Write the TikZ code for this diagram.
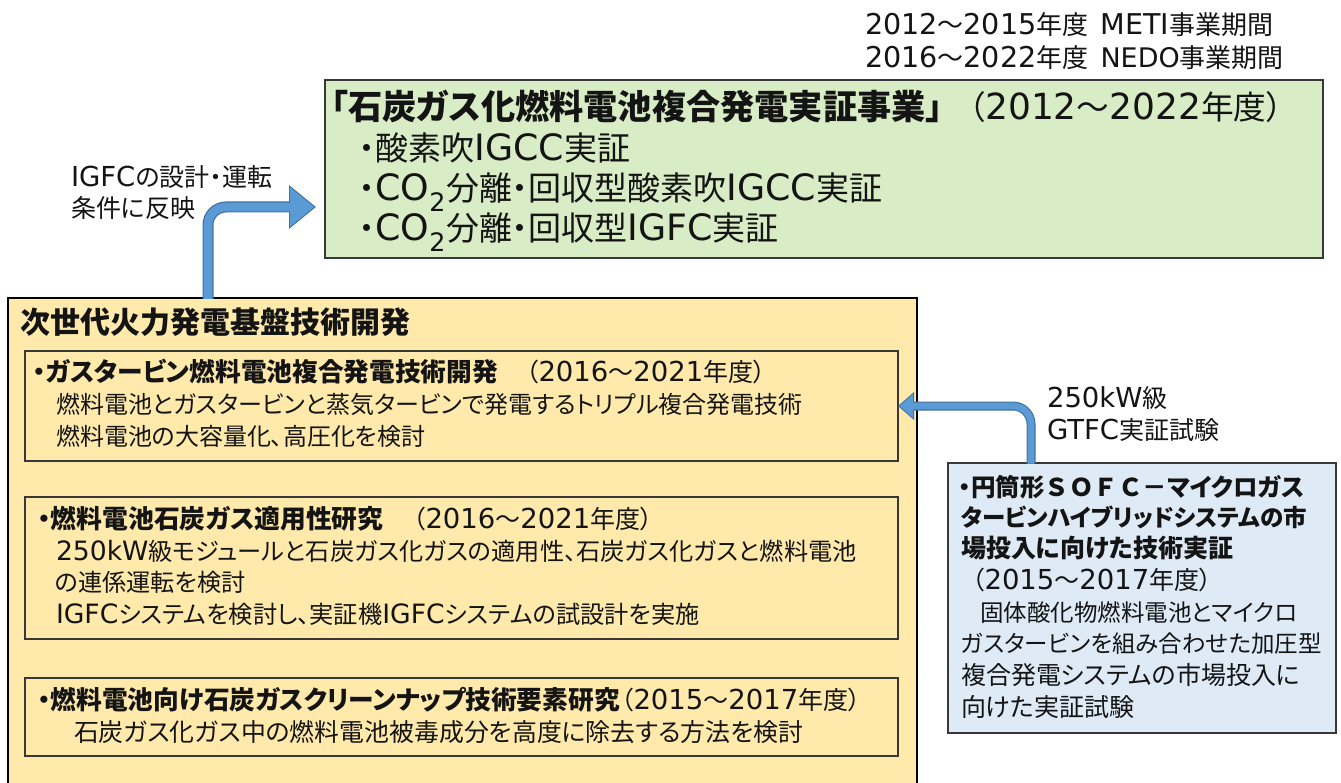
\documentclass[tikz,border=0pt]{standalone}
\usepackage{fontspec}
\setmainfont[RawFeature=+palt]{Noto Sans CJK JP}
\newfontfamily\fullw{Noto Sans CJK JP}
\newfontfamily\latf[Scale=1.1]{DejaVu Sans}
\newcommand\LT[1]{{\latf #1}}
\usetikzlibrary{arrows.meta}
\definecolor{grn}{HTML}{D8ECC6}
\definecolor{ylw}{HTML}{FFE9AB}
\definecolor{blu}{HTML}{DEEBF7}
\definecolor{arrfill}{HTML}{5B9BD5}
\definecolor{arrline}{HTML}{41719C}
\tikzset{
  panel/.style={anchor=north west, inner sep=0pt, outer sep=0pt, line width=1.3pt, draw=black!78},
  greenbox/.style={panel, fill=grn},
  yellowbox/.style={panel, fill=ylw, draw=black, line width=1.7pt},
  innerbox/.style={panel, line width=1.2pt},
  bluebox/.style={panel, fill=blu, line width=1.2pt},
  txt/.style={anchor=base west, inner sep=0pt, outer sep=0pt, text=black!92},
  fs/.style={font=\fontsize{#1}{#1}\selectfont},
  arrdark/.style={draw=arrline, line width=#1, rounded corners=18pt},
  arrlight/.style={draw=arrfill, line width=#1, rounded corners=18pt},
}
\begin{document}
\begin{tikzpicture}[x=1pt, y=-1pt]
\useasboundingbox (0,0) rectangle (1341,783);
\fill[white] (0,0) rectangle (1341,783);

% top-right period labels
\node[txt, fs=26] (per1) at (865,35) {\LT{2012}～\LT{2015}年度\hspace{12pt}\LT{METI}事業期間};
\node[txt, fs=26] (per2) at (865,68) {\LT{2016}～\LT{2022}年度\hspace{12pt}{\latf\fontsize{24.5}{24.5}\selectfont NEDO}事業期間};

% green box
\node[greenbox, minimum width=998pt, minimum height=178pt] (green) at (325,80) {};
\node[txt, fs=34.2] (g1) at (331,120) {\bfseries 「石炭ガス化燃料電池複合発電実証事業」};
\node[txt, fs=32.7] (g1y) at (969,120) {（\LT{2012}～\LT{2022}年度）};
\node[txt, fs=33] (g2) at (359,161) {・酸素吹\LT{IGCC}実証};
\node[txt, fs=33] (g3) at (359,201) {・\LT{CO\textsubscript{2}}分離・回収型酸素吹\LT{IGCC}実証};
\node[txt, fs=33] (g4) at (359,241) {・\LT{CO\textsubscript{2}}分離・回収型\LT{IGFC}実証};

% yellow big box
\begin{scope}
\clip (0,0) rectangle (1341,783);
\node[yellowbox, minimum width=909pt, minimum height=512pt] (yellow) at (8,298) {};
\end{scope}
\node[txt, fs=30] (yh) at (20,334) {\bfseries 次世代火力発電基盤技術開発};

% inner box 1
\node[innerbox, minimum width=873pt, minimum height=110pt] (b1) at (25,351) {};
\node[txt, fs=25.7] (b1a) at (33,381.5) {\bfseries ・ガスタービン燃料電池複合発電技術開発};
\node[txt, fs=25] (b1y) at (526,381.5) {（\LT{2016}～\LT{2021}年度）};
\node[txt, fs=24] (b1b) at (56,413.5) {燃料電池とガスタービンと蒸気タービンで発電するトリプル複合発電技術};
\node[txt, fs=24] (b1c) at (56,445.5) {燃料電池の大容量化、高圧化を検討};

% inner box 2
\node[innerbox, minimum width=873pt, minimum height=142pt] (b2) at (25,497) {};
\node[txt, fs=25.8] (b2a) at (38,528.5) {\bfseries ・燃料電池石炭ガス適用性研究};
\node[txt, fs=25] (b2y) at (413,528.5) {（\LT{2016}～\LT{2021}年度）};
\node[txt, fs=24.2] (b2b) at (56,560.5) {\LT{250kW}級モジュールと石炭ガス化ガスの適用性、石炭ガス化ガスと燃料電池};
\node[txt, fs=24.2] (b2c) at (55,591.5) {の連係運転を検討};
\node[txt, fs=24.2] (b2d) at (56,623.5) {\LT{IGFC}システムを検討し、実証機\LT{IGFC}システムの試設計を実施};

% inner box 3
\node[innerbox, minimum width=873pt, minimum height=78pt] (b3) at (25,678) {};
\node[txt, fs=25.7] (b3a) at (38,709.5) {\bfseries ・燃料電池向け石炭ガスクリーンナップ技術要素研究};
\node[txt, fs=25] (b3y) at (621,709.5) {（\LT{2015}～\LT{2017}年度）};
\node[txt, fs=24.9] (b3b) at (74,741.5) {石炭ガス化ガス中の燃料電池被毒成分を高度に除去する方法を検討};

% blue box
\node[bluebox, minimum width=388pt, minimum height=270pt] (blue) at (948,463) {};
\node[txt, fs=24.5] (u1) at (959,496) {\bfseries ・円筒形{\fullw ＳＯＦＣ－}マイクロガス};
\node[txt, fs=23.5] (u2) at (961,526) {\bfseries タービンハイブリッドシステムの市};
\node[txt, fs=25] (u3) at (961,557) {\bfseries 場投入に向けた技術実証};
\node[txt, fs=25] (u4) at (972,589) {（\LT{2015}～\LT{2017}年度）};
\node[txt, fs=23.5] (u5) at (961,621) {\hspace*{19pt}固体酸化物燃料電池とマイクロ};
\node[txt, fs=23.5] (u6) at (961,652) {ガスタービンを組み合わせた加圧型};
\node[txt, fs=25] (u7) at (961,684) {複合発電システムの市場投入に};
\node[txt, fs=25] (u8) at (961,716) {向けた実証試験};

% arrow labels
\node[txt, fs=25] (la1) at (71,187) {\LT{IGFC}の設計・運転};
\node[txt, fs=25] (la2) at (71,218) {条件に反映};
\node[txt, fs=25] (lb1) at (1047,407) {\LT{250kW}級};
\node[txt, fs=25] (lb2) at (1047,439) {\LT{GTFC}実証試験};

% block arrow 1: yellow box -> green box
\coordinate (a1s) at (208,298.8);
\coordinate (a1e) at (316,207);
\draw[arrdark=11pt, -{Triangle[width=42pt,length=27pt]}] (a1s) |- (a1e);
\draw[arrlight=8.6pt, shorten >=1.8pt, -{Triangle[width=37.5pt,length=24pt]}] (a1s) |- (a1e);

% block arrow 2: blue box -> inner box 1
\coordinate (a2s) at (1031,463.6);
\draw[arrdark=9pt, -{Triangle[width=27pt,length=16pt]}] (a2s) |- (b1.east);
\draw[arrlight=6.8pt, shorten >=1.5pt, -{Triangle[width=23pt,length=13.5pt]}] (a2s) |- (b1.east);
\end{tikzpicture}
\end{document}
